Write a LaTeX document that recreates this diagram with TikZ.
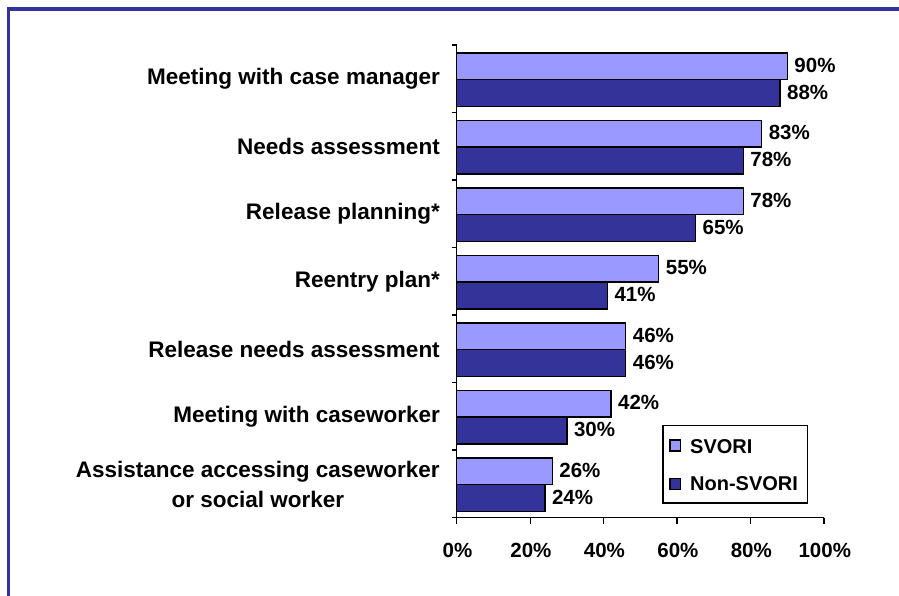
\documentclass[tikz,border=0pt]{standalone}
\usepackage{fontspec}
\setmainfont{Liberation Sans}
\definecolor{svori}{HTML}{9999FF}
\definecolor{nonsvori}{HTML}{333399}
\begin{document}
\begin{tikzpicture}[x=1pt,y=-1pt,
  bar/.style={draw=black,line width=1.3pt},
  axisline/.style={draw=black,line width=1.3pt},
  catlabel/.style={anchor=east,font=\bfseries\fontsize{22.5}{30}\selectfont,align=center,inner sep=0pt},
  vallabel/.style={anchor=west,font=\bfseries\fontsize{20.5}{24}\selectfont,inner sep=0pt},
  ticklabel/.style={anchor=center,font=\bfseries\fontsize{20.5}{24}\selectfont,inner sep=0pt},
  legtext/.style={anchor=west,font=\bfseries\fontsize{20}{24}\selectfont,inner sep=0pt},
  legkey/.style={draw=black,line width=1.1pt,minimum width=10.7pt,minimum height=11pt,inner sep=0pt,anchor=center}]
\path[use as bounding box] (0,0) rectangle (899,596);
% frame
\draw[nonsvori,line width=3.4pt] (8.4,596) -- (8.4,9) -- (899,9);
% bars and labels
\foreach \i/\a/\b/\lab in {1/90/88/{Meeting with case manager},
  2/83/78/{Needs assessment},
  3/78/65/{Release planning*},
  4/55/41/{Reentry plan*},
  5/46/46/{Release needs assessment},
  6/42/30/{Meeting with caseworker},
  7/26/24/{Assistance accessing caseworker\\or social worker}} {
  \pgfmathsetmacro\ytop{45+67.5*(\i-1)}
  \draw[bar,fill=svori] (456.7,\ytop+8) rectangle ++(3.673*\a,26.5);
  \draw[bar,fill=nonsvori] (456.7,\ytop+34.5) rectangle ++(3.673*\b,27);
  \node[vallabel] (vs\i) at (456.7+3.673*\a+7,\ytop+20) {\a\%};
  \node[vallabel] (vn\i) at (456.7+3.673*\b+7,\ytop+47) {\b\%};
  \node[catlabel] (c\i) at (440,\ytop+34) {\lab};
}
% axes
\draw[axisline] (456.7,45) -- (456.7,517.7) -- (824,517.7);
\foreach \j in {0,...,7} {
  \draw[axisline] (451.5,45+67.5*\j) -- (456.7,45+67.5*\j);
}
\foreach \k in {0,...,5} {
  \draw[axisline] (456.7+73.46*\k,517.7) -- (456.7+73.46*\k,524);
  \pgfmathtruncatemacro\pct{20*\k}
  \node[ticklabel] (t\k) at (457.5+73.46*\k,550) {\pct\%};
}
% legend
\node[draw=black,line width=1.3pt,minimum width=144.4pt,minimum height=77.3pt,anchor=north west,inner sep=0pt] (legend) at (662.3,425) {};
\node[legkey,fill=svori] (k1) at (675.3,445.5) {};
\node[legkey,fill=nonsvori] (k2) at (675.3,483.7) {};
\node[legtext] (l1) at (690,446.5) {SVORI};
\node[legtext] (l2) at (690,484) {Non-SVORI};
\end{tikzpicture}
\end{document}
